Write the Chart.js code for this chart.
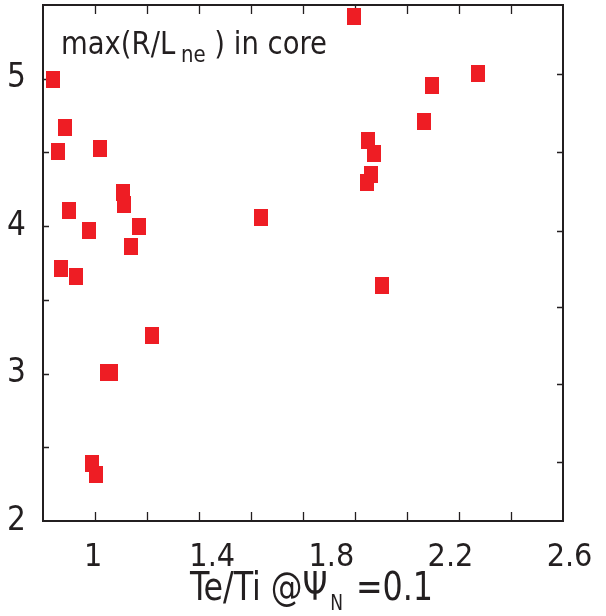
<!DOCTYPE html>
<html>
<head>
<meta charset="utf-8">
<script src="https://cdn.jsdelivr.net/npm/chart.js@4.4.1/dist/chart.umd.min.js"></script>
<style>
  html, body { margin: 0; padding: 0; background: #fff; }
  #wrap { width: 606px; height: 616px; }
</style>
</head>
<body>
<div id="wrap"><canvas id="scatterChart" width="606" height="616"></canvas></div>
<script>
// values
const teTi = [0.864, 0.907, 0.883, 1.024, 1.099, 1.104, 0.920, 0.987, 1.154, 1.127,
              0.892, 0.943, 1.197, 1.047, 1.059, 0.995, 1.009,
              1.877, 2.293, 2.137, 2.111, 1.924, 1.943, 1.934, 1.919, 1.563, 1.971];
const maxRLne = [4.993, 4.670, 4.505, 4.530, 4.225, 4.145, 4.109, 3.969, 3.999, 3.865,
                 3.711, 3.659, 3.261, 3.008, 3.008, 2.391, 2.318,
                 5.421, 5.032, 4.955, 4.708, 4.584, 4.494, 4.351, 4.297, 4.057, 3.594];

const xTickLabels = [1, 1.4, 1.8, 2.2, 2.6];
const yTickLabels = [2, 3, 4, 5];
const yLeftMinor = [2.5, 3, 3.5, 4, 4.5, 5];
const yRightMinor = [5.03, 4.50, 3.97, 3.45, 2.93, 2.40];
const xMin = 0.8316, xMax = 2.578;
const yMin = 2, yMax = 5.5;

const ink = '#231f20';
const fontFam = "'DejaVu Sans Condensed', 'DejaVu Sans', sans-serif";

// red rectangular marker
const marker = document.createElement('canvas');
marker.width = 14; marker.height = 17;
const mctx = marker.getContext('2d');
mctx.fillStyle = '#ee1d24';
mctx.fillRect(0, 0, 14, 17);

const points = teTi.map((x, i) => ({ x: x, y: maxRLne[i] }));

// draws [text, size, dy, gap] pieces in a row, squeezed to a given width
function drawPieces(ctx, pieces, x0, base, width) {
    let total = 0;
    pieces.forEach(p => {
        ctx.font = p[1] + 'px ' + fontFam;
        total += ctx.measureText(p[0]).width + (p[3] || 0);
    });
    const sx = width / total;
    ctx.save();
    ctx.translate(x0, base);
    ctx.scale(sx, 1);
    let x = 0;
    pieces.forEach(p => {
        ctx.font = p[1] + 'px ' + fontFam;
        ctx.fillText(p[0], x, p[2]);
        x += ctx.measureText(p[0]).width + (p[3] || 0);
    });
    ctx.restore();
}

// frame, inward tick marks and the two texts with subscripts
const decor = {
    id: 'decor',
    beforeDatasetsDraw(chart) {
        const { ctx, chartArea: a, scales } = chart;
        const xs = scales.x, ys = scales.y;
        ctx.save();
        ctx.strokeStyle = ink;
        ctx.lineWidth = 1.3;
        ctx.beginPath();
        // x ticks (10 equal steps), top and bottom
        for (let k = 1; k < 10; k++) {
            const px = Math.round(xs.getPixelForValue(xMin + k * (xMax - xMin) / 10)) + 0.5;
            ctx.moveTo(px, a.bottom); ctx.lineTo(px, a.bottom - 9);
            ctx.moveTo(px, a.top); ctx.lineTo(px, a.top + 9);
        }
        yLeftMinor.forEach(v => {
            const py = Math.round(ys.getPixelForValue(v)) + 0.5;
            ctx.moveTo(a.left, py); ctx.lineTo(a.left + 6, py);
        });
        yRightMinor.forEach(v => {
            const py = Math.round(ys.getPixelForValue(v)) + 0.5;
            ctx.moveTo(a.right, py); ctx.lineTo(a.right - 6, py);
        });
        ctx.stroke();
        ctx.lineWidth = 2;
        ctx.strokeRect(a.left, a.top, a.right - a.left, a.bottom - a.top);
        ctx.restore();
    },
    afterDraw(chart) {
        const { ctx } = chart;
        ctx.save();
        ctx.fillStyle = ink;
        ctx.textBaseline = 'alphabetic';
        ctx.textAlign = 'left';
        // annotation in the plot
        drawPieces(ctx, [['max(R/L', 32, 0, 6], ['ne', 23, 8], [' ) in core', 32, 0]], 61, 54, 266);
        // x axis title
        drawPieces(ctx, [['Te/Ti @\u03A8', 39, 0, 3], ['N', 21, 10, 3], [' =0.1', 39, 0]], 190, 600, 243);
        ctx.restore();
    }
};

const ctx = document.getElementById('scatterChart').getContext('2d');
const scatterChart = new Chart(ctx, {
    type: 'scatter',
    data: {
        datasets: [{
            data: points,
            pointStyle: marker,
            pointRadius: 8,
            clip: false
        }]
    },
    options: {
        responsive: false,
        animation: false,
        layout: { autoPadding: false, padding: { top: 5, right: 43, left: 0, bottom: 0 } },
        plugins: { legend: { display: false }, tooltip: { enabled: false } },
        scales: {
            x: {
                type: 'linear',
                position: 'bottom',
                min: xMin,
                max: xMax,
                grid: { display: false },
                border: { display: false },
                afterBuildTicks: s => { s.ticks = xTickLabels.map(v => ({ value: v })); },
                afterFit: s => { s.height = 95; s.paddingLeft = 0; s.paddingRight = 0; },
                ticks: {
                    autoSkip: false,
                    maxRotation: 0,
                    padding: 9,
                    color: ink,
                    font: { family: fontFam, size: 32 },
                    callback: v => String(v)
                }
            },
            y: {
                type: 'linear',
                min: yMin,
                max: yMax,
                grid: { display: false },
                border: { display: false },
                afterBuildTicks: s => { s.ticks = yTickLabels.map(v => ({ value: v })); },
                afterFit: s => { s.width = 43; s.paddingTop = 0; s.paddingBottom = 0; },
                ticks: {
                    autoSkip: false,
                    padding: 9,
                    color: ink,
                    font: { family: fontFam, size: 33 },
                    callback: v => String(v)
                }
            }
        }
    },
    plugins: [decor]
});
</script>
</body>
</html>
